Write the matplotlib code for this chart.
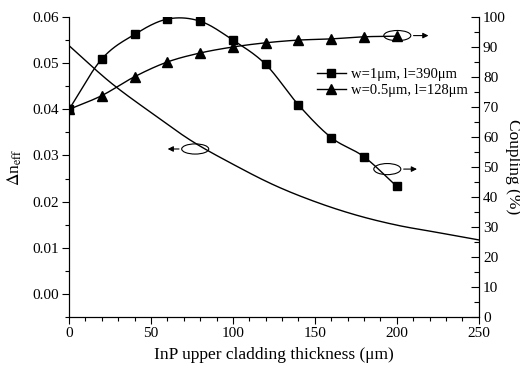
import numpy as np
import matplotlib
matplotlib.use("Agg")
import matplotlib.pyplot as plt
from matplotlib.patches import Ellipse
from matplotlib.ticker import MultipleLocator

plt.rcParams['font.family'] = ['Liberation Serif', 'DejaVu Serif']
plt.rcParams['mathtext.fontset'] = 'stix'

# data
thick_dn = [0, 25, 50, 75, 100, 125, 150, 175, 200, 225, 250]
delta_neff = [0.0538, 0.0459, 0.0393, 0.0331, 0.0281, 0.0236, 0.0200, 0.0171, 0.0149, 0.0133, 0.0117]

thick_cp = [0, 20, 40, 60, 80, 100, 120, 140, 160, 180, 200]
coupling_w1 = [69.2, 86.0, 94.2, 99.3, 98.6, 92.3, 84.2, 70.7, 59.8, 53.4, 43.5]
coupling_w05 = [69.2, 73.8, 80.1, 85.0, 88.0, 90.0, 91.4, 92.3, 92.7, 93.4, 93.6]

label_w1 = 'w=1\u03bcm, l=390\u03bcm'
label_w05 = 'w=0.5\u03bcm, l=128\u03bcm'


def smooth(x, y, n=20):
    # catmull-rom curve through the points, only for drawing
    x = np.asarray(x, float)
    y = np.asarray(y, float)
    px = np.concatenate([[2 * x[0] - x[1]], x, [2 * x[-1] - x[-2]]])
    py = np.concatenate([[2 * y[0] - y[1]], y, [2 * y[-1] - y[-2]]])
    xs, ys = [], []
    t = np.linspace(0, 1, n, endpoint=False)
    for i in range(1, len(px) - 2):
        for p, out in ((px, xs), (py, ys)):
            p0, p1, p2, p3 = p[i - 1], p[i], p[i + 1], p[i + 2]
            out.extend(0.5 * (2 * p1 + (-p0 + p2) * t + (2 * p0 - 5 * p1 + 4 * p2 - p3) * t ** 2
                              + (-p0 + 3 * p1 - 3 * p2 + p3) * t ** 3))
    xs.append(x[-1])
    ys.append(y[-1])
    return np.array(xs), np.array(ys)


fig = plt.figure(figsize=(5.2, 3.71), dpi=100)
ax = fig.add_axes([0.1327, 0.1456, 0.788, 0.8086])
ax2 = ax.twinx()

sx, sy = smooth(thick_dn, delta_neff)
ax.plot(sx, sy, color='k', lw=1)

sx, sy = smooth(thick_cp, coupling_w1)
ax2.plot(sx, sy, color='k', lw=1)
ax2.plot(thick_cp, coupling_w1, 's', color='k', ms=6)
sx, sy = smooth(thick_cp, coupling_w05)
ax2.plot(sx, sy, color='k', lw=1)
ax2.plot(thick_cp, coupling_w05, '^', color='k', ms=6.5)

# legend handles
ax2.plot([], [], '-s', color='k', lw=1, ms=6, label=label_w1)
ax2.plot([], [], '-^', color='k', lw=1, ms=6.5, label=label_w05)
ax2.legend(loc='upper left', bbox_to_anchor=(0.605, 0.83), frameon=False, fontsize=10.5,
           handlelength=2.0, handletextpad=0.35, borderpad=0, borderaxespad=0,
           labelspacing=0.2)

ax.set_xlim(0, 250)
ax.set_ylim(-0.005, 0.06)
ax2.set_ylim(0, 100)

ax.xaxis.set_major_locator(MultipleLocator(50))
ax.xaxis.set_minor_locator(MultipleLocator(10))
ax.yaxis.set_minor_locator(MultipleLocator(0.005))
ax2.yaxis.set_major_locator(MultipleLocator(10))
ax2.yaxis.set_minor_locator(MultipleLocator(5))
ax.set_yticks([0, 0.01, 0.02, 0.03, 0.04, 0.05, 0.06])
ax.set_yticklabels(['0.00', '0.01', '0.02', '0.03', '0.04', '0.05', '0.06'])

for a in (ax, ax2):
    a.spines['top'].set_visible(False)
ax.tick_params(which='major', direction='out', length=5, width=0.8, labelsize=11, pad=2)
ax.tick_params(which='minor', direction='out', length=3, width=0.8)
ax2.tick_params(which='major', direction='in', length=6, width=0.8, labelsize=11, pad=3)
ax2.tick_params(which='minor', direction='in', length=3.5, width=0.8)

ax.set_xlabel('InP upper cladding thickness (\u03bcm)', fontsize=12.5, labelpad=5)
ax.set_ylabel(r'$\Delta$n$_{\mathrm{eff}}$', fontsize=12.5, labelpad=6)
fig.text(513 / 520, 0.5 * (0.1456 + 0.9542), 'Coupling (%)', fontsize=12.5,
         rotation=270, ha='center', va='center')

# ellipse markers with arrows pointing to the axis each curve belongs to
ax.add_patch(Ellipse((77, 0.0314), 16.5, 0.0022, fill=False, lw=0.8, color='k'))
ax.annotate('', xy=(58.5, 0.0314), xytext=(68.8, 0.0314),
            arrowprops=dict(arrowstyle='-|>', lw=0.8, color='k', mutation_scale=8))
ax2.add_patch(Ellipse((200.3, 93.8), 16.5, 3.4, fill=False, lw=0.8, color='k'))
ax2.annotate('', xy=(221, 93.8), xytext=(208.5, 93.8),
             arrowprops=dict(arrowstyle='-|>', lw=0.8, color='k', mutation_scale=8))
ax2.add_patch(Ellipse((194.2, 49.3), 16.5, 3.7, fill=False, lw=0.8, color='k'))
ax2.annotate('', xy=(214, 49.3), xytext=(202.5, 49.3),
             arrowprops=dict(arrowstyle='-|>', lw=0.8, color='k', mutation_scale=8))

fig.savefig('out.png', dpi=100)
